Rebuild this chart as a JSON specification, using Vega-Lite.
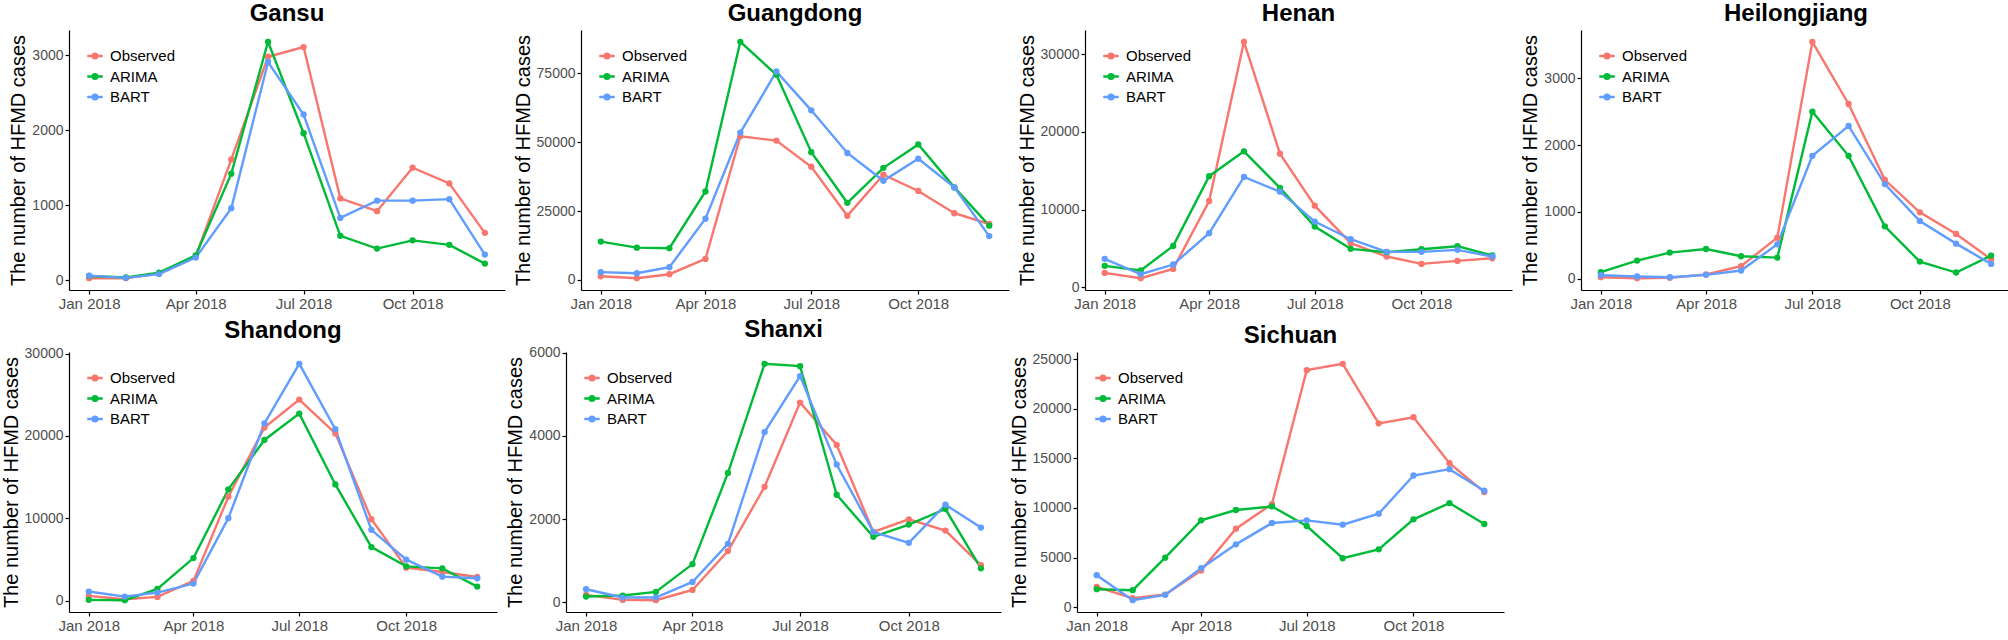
{
  "$schema": "https://vega.github.io/schema/vega-lite/v6.json",
  "padding": {"left": 1, "top": 2, "right": 2, "bottom": 2},
  "background": "white",
  "data": {"values": [
    {"p":"Gansu","m":"2018-01-01","Observed":25,"ARIMA":55,"BART":60},
    {"p":"Gansu","m":"2018-02-01","Observed":25,"ARIMA":35,"BART":30},
    {"p":"Gansu","m":"2018-03-01","Observed":90,"ARIMA":100,"BART":80},
    {"p":"Gansu","m":"2018-04-01","Observed":320,"ARIMA":330,"BART":300},
    {"p":"Gansu","m":"2018-05-01","Observed":1610,"ARIMA":1420,"BART":960},
    {"p":"Gansu","m":"2018-06-01","Observed":2980,"ARIMA":3180,"BART":2910},
    {"p":"Gansu","m":"2018-07-01","Observed":3110,"ARIMA":1960,"BART":2210},
    {"p":"Gansu","m":"2018-08-01","Observed":1090,"ARIMA":590,"BART":830},
    {"p":"Gansu","m":"2018-09-01","Observed":920,"ARIMA":420,"BART":1060},
    {"p":"Gansu","m":"2018-10-01","Observed":1500,"ARIMA":530,"BART":1060},
    {"p":"Gansu","m":"2018-11-01","Observed":1290,"ARIMA":470,"BART":1080},
    {"p":"Gansu","m":"2018-12-01","Observed":630,"ARIMA":220,"BART":340},
    {"p":"Guangdong","m":"2018-01-01","Observed":1300,"ARIMA":13900,"BART":2800},
    {"p":"Guangdong","m":"2018-02-01","Observed":600,"ARIMA":11700,"BART":2400},
    {"p":"Guangdong","m":"2018-03-01","Observed":2050,"ARIMA":11500,"BART":4600},
    {"p":"Guangdong","m":"2018-04-01","Observed":7600,"ARIMA":32100,"BART":22200},
    {"p":"Guangdong","m":"2018-05-01","Observed":52200,"ARIMA":86500,"BART":53500},
    {"p":"Guangdong","m":"2018-06-01","Observed":50600,"ARIMA":74500,"BART":75700},
    {"p":"Guangdong","m":"2018-07-01","Observed":41100,"ARIMA":46400,"BART":61600},
    {"p":"Guangdong","m":"2018-08-01","Observed":23300,"ARIMA":28000,"BART":46100},
    {"p":"Guangdong","m":"2018-09-01","Observed":38200,"ARIMA":40700,"BART":36000},
    {"p":"Guangdong","m":"2018-10-01","Observed":32300,"ARIMA":49200,"BART":44000},
    {"p":"Guangdong","m":"2018-11-01","Observed":24200,"ARIMA":33600,"BART":33600},
    {"p":"Guangdong","m":"2018-12-01","Observed":20300,"ARIMA":19700,"BART":15900},
    {"p":"Henan","m":"2018-01-01","Observed":1840,"ARIMA":2750,"BART":3650},
    {"p":"Henan","m":"2018-02-01","Observed":1160,"ARIMA":2150,"BART":1670},
    {"p":"Henan","m":"2018-03-01","Observed":2360,"ARIMA":5320,"BART":2920},
    {"p":"Henan","m":"2018-04-01","Observed":11100,"ARIMA":14300,"BART":6950},
    {"p":"Henan","m":"2018-05-01","Observed":31600,"ARIMA":17500,"BART":14200},
    {"p":"Henan","m":"2018-06-01","Observed":17200,"ARIMA":12800,"BART":12300},
    {"p":"Henan","m":"2018-07-01","Observed":10500,"ARIMA":7810,"BART":8450},
    {"p":"Henan","m":"2018-08-01","Observed":5670,"ARIMA":4940,"BART":6180},
    {"p":"Henan","m":"2018-09-01","Observed":3950,"ARIMA":4510,"BART":4550},
    {"p":"Henan","m":"2018-10-01","Observed":3000,"ARIMA":4890,"BART":4550},
    {"p":"Henan","m":"2018-11-01","Observed":3390,"ARIMA":5280,"BART":4810},
    {"p":"Henan","m":"2018-12-01","Observed":3730,"ARIMA":4080,"BART":3950},
    {"p":"Heilongjiang","m":"2018-01-01","Observed":20,"ARIMA":95,"BART":50},
    {"p":"Heilongjiang","m":"2018-02-01","Observed":5,"ARIMA":269,"BART":30},
    {"p":"Heilongjiang","m":"2018-03-01","Observed":10,"ARIMA":389,"BART":20},
    {"p":"Heilongjiang","m":"2018-04-01","Observed":60,"ARIMA":443,"BART":55},
    {"p":"Heilongjiang","m":"2018-05-01","Observed":185,"ARIMA":334,"BART":120},
    {"p":"Heilongjiang","m":"2018-06-01","Observed":613,"ARIMA":314,"BART":513},
    {"p":"Heilongjiang","m":"2018-07-01","Observed":3548,"ARIMA":2501,"BART":1839},
    {"p":"Heilongjiang","m":"2018-08-01","Observed":2616,"ARIMA":1839,"BART":2287},
    {"p":"Heilongjiang","m":"2018-09-01","Observed":1480,"ARIMA":782,"BART":1415},
    {"p":"Heilongjiang","m":"2018-10-01","Observed":992,"ARIMA":254,"BART":862},
    {"p":"Heilongjiang","m":"2018-11-01","Observed":668,"ARIMA":90,"BART":523},
    {"p":"Heilongjiang","m":"2018-12-01","Observed":289,"ARIMA":344,"BART":219},
    {"p":"Shandong","m":"2018-01-01","Observed":560,"ARIMA":80,"BART":1090},
    {"p":"Shandong","m":"2018-02-01","Observed":160,"ARIMA":40,"BART":480},
    {"p":"Shandong","m":"2018-03-01","Observed":440,"ARIMA":1410,"BART":970},
    {"p":"Shandong","m":"2018-04-01","Observed":2380,"ARIMA":5160,"BART":2060},
    {"p":"Shandong","m":"2018-05-01","Observed":12600,"ARIMA":13500,"BART":10000},
    {"p":"Shandong","m":"2018-06-01","Observed":21000,"ARIMA":19500,"BART":21500},
    {"p":"Shandong","m":"2018-07-01","Observed":24400,"ARIMA":22700,"BART":28750},
    {"p":"Shandong","m":"2018-08-01","Observed":20300,"ARIMA":14100,"BART":20800},
    {"p":"Shandong","m":"2018-09-01","Observed":9880,"ARIMA":6490,"BART":8590},
    {"p":"Shandong","m":"2018-10-01","Observed":3990,"ARIMA":4150,"BART":4960},
    {"p":"Shandong","m":"2018-11-01","Observed":3470,"ARIMA":3910,"BART":2900},
    {"p":"Shandong","m":"2018-12-01","Observed":2860,"ARIMA":1690,"BART":2700},
    {"p":"Shanxi","m":"2018-01-01","Observed":175,"ARIMA":136,"BART":311},
    {"p":"Shanxi","m":"2018-02-01","Observed":55,"ARIMA":160,"BART":112},
    {"p":"Shanxi","m":"2018-03-01","Observed":48,"ARIMA":247,"BART":112},
    {"p":"Shanxi","m":"2018-04-01","Observed":295,"ARIMA":917,"BART":487},
    {"p":"Shanxi","m":"2018-05-01","Observed":1230,"ARIMA":3111,"BART":1404},
    {"p":"Shanxi","m":"2018-06-01","Observed":2776,"ARIMA":5736,"BART":4093},
    {"p":"Shanxi","m":"2018-07-01","Observed":4803,"ARIMA":5680,"BART":5441},
    {"p":"Shanxi","m":"2018-08-01","Observed":3782,"ARIMA":2585,"BART":3311},
    {"p":"Shanxi","m":"2018-09-01","Observed":1691,"ARIMA":1572,"BART":1691},
    {"p":"Shanxi","m":"2018-10-01","Observed":1994,"ARIMA":1867,"BART":1428},
    {"p":"Shanxi","m":"2018-11-01","Observed":1723,"ARIMA":2242,"BART":2345},
    {"p":"Shanxi","m":"2018-12-01","Observed":894,"ARIMA":814,"BART":1795},
    {"p":"Sichuan","m":"2018-01-01","Observed":2040,"ARIMA":1810,"BART":3220},
    {"p":"Sichuan","m":"2018-02-01","Observed":900,"ARIMA":1710,"BART":700},
    {"p":"Sichuan","m":"2018-03-01","Observed":1270,"ARIMA":4990,"BART":1240},
    {"p":"Sichuan","m":"2018-04-01","Observed":3690,"ARIMA":8750,"BART":3920},
    {"p":"Sichuan","m":"2018-05-01","Observed":7910,"ARIMA":9790,"BART":6330},
    {"p":"Sichuan","m":"2018-06-01","Observed":10390,"ARIMA":10150,"BART":8480},
    {"p":"Sichuan","m":"2018-07-01","Observed":23890,"ARIMA":8180,"BART":8750},
    {"p":"Sichuan","m":"2018-08-01","Observed":24530,"ARIMA":4930,"BART":8310},
    {"p":"Sichuan","m":"2018-09-01","Observed":18530,"ARIMA":5830,"BART":9420},
    {"p":"Sichuan","m":"2018-10-01","Observed":19140,"ARIMA":8850,"BART":13270},
    {"p":"Sichuan","m":"2018-11-01","Observed":14510,"ARIMA":10490,"BART":13910},
    {"p":"Sichuan","m":"2018-12-01","Observed":11600,"ARIMA":8380,"BART":11730}
  ]},
  "transform": [{"fold": ["Observed", "ARIMA", "BART"], "as": ["s", "v"]}],
  "resolve": {"scale": {"color": "independent"}, "legend": {"color": "independent"}},
  "spacing": 6,
  "vconcat": [
    {
      "spacing": 8,
      "resolve": {"scale": {"color": "independent"}, "legend": {"color": "independent"}},
      "hconcat": [
        {
          "title": "Gansu", "width": 436, "height": 260,
          "transform": [{"filter": "datum.p === 'Gansu'"}],
          "encoding": {
            "x": {"field": "m", "type": "temporal", "title": null, "scale": {"type": "utc", "domain": [{"year": 2017, "month": 12, "date": 15, "utc": true}, {"year": 2018, "month": 12, "date": 18, "utc": true}]}, "axis": {"values": [{"year": 2018, "month": 1, "date": 1, "utc": true}, {"year": 2018, "month": 4, "date": 1, "utc": true}, {"year": 2018, "month": 7, "date": 1, "utc": true}, {"year": 2018, "month": 10, "date": 1, "utc": true}], "labelExpr": "utcFormat(datum.value, '%b %Y')"}},
            "y": {"field": "v", "type": "quantitative", "title": "The number of HFMD cases", "scale": {"zero": false, "nice": false, "padding": 11.8}, "axis": {"values": [0, 1000, 2000, 3000], "format": "d"}},
            "color": {"field": "s", "type": "nominal", "title": null, "scale": {"domain": ["Observed", "ARIMA", "BART"], "range": ["#F8766D", "#00BA38", "#619CFF"]}}
          },
          "layer": [{"mark": {"type": "line", "strokeWidth": 2.4}}, {"mark": {"type": "point", "filled": true, "size": 40, "opacity": 1}}]
        },
        {
          "title": "Guangdong", "width": 428, "height": 260,
          "transform": [{"filter": "datum.p === 'Guangdong'"}],
          "encoding": {
            "x": {"field": "m", "type": "temporal", "title": null, "scale": {"type": "utc", "domain": [{"year": 2017, "month": 12, "date": 15, "utc": true}, {"year": 2018, "month": 12, "date": 18, "utc": true}]}, "axis": {"values": [{"year": 2018, "month": 1, "date": 1, "utc": true}, {"year": 2018, "month": 4, "date": 1, "utc": true}, {"year": 2018, "month": 7, "date": 1, "utc": true}, {"year": 2018, "month": 10, "date": 1, "utc": true}], "labelExpr": "utcFormat(datum.value, '%b %Y')"}},
            "y": {"field": "v", "type": "quantitative", "title": "The number of HFMD cases", "scale": {"zero": false, "nice": false, "padding": 11.8}, "axis": {"values": [0, 25000, 50000, 75000], "format": "d"}},
            "color": {"field": "s", "type": "nominal", "title": null, "scale": {"domain": ["Observed", "ARIMA", "BART"], "range": ["#F8766D", "#00BA38", "#619CFF"]}}
          },
          "layer": [{"mark": {"type": "line", "strokeWidth": 2.4}}, {"mark": {"type": "point", "filled": true, "size": 40, "opacity": 1}}]
        },
        {
          "title": "Henan", "width": 427, "height": 260,
          "transform": [{"filter": "datum.p === 'Henan'"}],
          "encoding": {
            "x": {"field": "m", "type": "temporal", "title": null, "scale": {"type": "utc", "domain": [{"year": 2017, "month": 12, "date": 15, "utc": true}, {"year": 2018, "month": 12, "date": 18, "utc": true}]}, "axis": {"values": [{"year": 2018, "month": 1, "date": 1, "utc": true}, {"year": 2018, "month": 4, "date": 1, "utc": true}, {"year": 2018, "month": 7, "date": 1, "utc": true}, {"year": 2018, "month": 10, "date": 1, "utc": true}], "labelExpr": "utcFormat(datum.value, '%b %Y')"}},
            "y": {"field": "v", "type": "quantitative", "title": "The number of HFMD cases", "scale": {"zero": false, "nice": false, "padding": 11.8}, "axis": {"values": [0, 10000, 20000, 30000], "format": "d"}},
            "color": {"field": "s", "type": "nominal", "title": null, "scale": {"domain": ["Observed", "ARIMA", "BART"], "range": ["#F8766D", "#00BA38", "#619CFF"]}}
          },
          "layer": [{"mark": {"type": "line", "strokeWidth": 2.4}}, {"mark": {"type": "point", "filled": true, "size": 40, "opacity": 1}}]
        },
        {
          "title": "Heilongjiang", "width": 430, "height": 260,
          "transform": [{"filter": "datum.p === 'Heilongjiang'"}],
          "encoding": {
            "x": {"field": "m", "type": "temporal", "title": null, "scale": {"type": "utc", "domain": [{"year": 2017, "month": 12, "date": 15, "utc": true}, {"year": 2018, "month": 12, "date": 18, "utc": true}]}, "axis": {"values": [{"year": 2018, "month": 1, "date": 1, "utc": true}, {"year": 2018, "month": 4, "date": 1, "utc": true}, {"year": 2018, "month": 7, "date": 1, "utc": true}, {"year": 2018, "month": 10, "date": 1, "utc": true}], "labelExpr": "utcFormat(datum.value, '%b %Y')"}},
            "y": {"field": "v", "type": "quantitative", "title": "The number of HFMD cases", "scale": {"zero": false, "nice": false, "padding": 11.8}, "axis": {"values": [0, 1000, 2000, 3000], "format": "d"}},
            "color": {"field": "s", "type": "nominal", "title": null, "scale": {"domain": ["Observed", "ARIMA", "BART"], "range": ["#F8766D", "#00BA38", "#619CFF"]}}
          },
          "layer": [{"mark": {"type": "line", "strokeWidth": 2.4}}, {"mark": {"type": "point", "filled": true, "size": 40, "opacity": 1}}]
        }
      ]
    },
    {
      "spacing": 8,
      "resolve": {"scale": {"color": "independent"}, "legend": {"color": "independent"}},
      "hconcat": [
        {
          "title": "Shandong", "width": 428, "height": 260,
          "transform": [{"filter": "datum.p === 'Shandong'"}],
          "encoding": {
            "x": {"field": "m", "type": "temporal", "title": null, "scale": {"type": "utc", "domain": [{"year": 2017, "month": 12, "date": 15, "utc": true}, {"year": 2018, "month": 12, "date": 18, "utc": true}]}, "axis": {"values": [{"year": 2018, "month": 1, "date": 1, "utc": true}, {"year": 2018, "month": 4, "date": 1, "utc": true}, {"year": 2018, "month": 7, "date": 1, "utc": true}, {"year": 2018, "month": 10, "date": 1, "utc": true}], "labelExpr": "utcFormat(datum.value, '%b %Y')"}},
            "y": {"field": "v", "type": "quantitative", "title": "The number of HFMD cases", "scale": {"zero": false, "nice": false, "padding": 11.8}, "axis": {"values": [0, 10000, 20000, 30000], "format": "d"}},
            "color": {"field": "s", "type": "nominal", "title": null, "scale": {"domain": ["Observed", "ARIMA", "BART"], "range": ["#F8766D", "#00BA38", "#619CFF"]}}
          },
          "layer": [{"mark": {"type": "line", "strokeWidth": 2.4}}, {"mark": {"type": "point", "filled": true, "size": 40, "opacity": 1}}]
        },
        {
          "title": "Shanxi", "width": 435, "height": 260,
          "transform": [{"filter": "datum.p === 'Shanxi'"}],
          "encoding": {
            "x": {"field": "m", "type": "temporal", "title": null, "scale": {"type": "utc", "domain": [{"year": 2017, "month": 12, "date": 15, "utc": true}, {"year": 2018, "month": 12, "date": 18, "utc": true}]}, "axis": {"values": [{"year": 2018, "month": 1, "date": 1, "utc": true}, {"year": 2018, "month": 4, "date": 1, "utc": true}, {"year": 2018, "month": 7, "date": 1, "utc": true}, {"year": 2018, "month": 10, "date": 1, "utc": true}], "labelExpr": "utcFormat(datum.value, '%b %Y')"}},
            "y": {"field": "v", "type": "quantitative", "title": "The number of HFMD cases", "scale": {"zero": false, "nice": false, "padding": 11.8}, "axis": {"values": [0, 2000, 4000, 6000], "format": "d"}},
            "color": {"field": "s", "type": "nominal", "title": null, "scale": {"domain": ["Observed", "ARIMA", "BART"], "range": ["#F8766D", "#00BA38", "#619CFF"]}}
          },
          "layer": [{"mark": {"type": "line", "strokeWidth": 2.4}}, {"mark": {"type": "point", "filled": true, "size": 40, "opacity": 1}}]
        },
        {
          "title": "Sichuan", "width": 427, "height": 260,
          "transform": [{"filter": "datum.p === 'Sichuan'"}],
          "encoding": {
            "x": {"field": "m", "type": "temporal", "title": null, "scale": {"type": "utc", "domain": [{"year": 2017, "month": 12, "date": 15, "utc": true}, {"year": 2018, "month": 12, "date": 18, "utc": true}]}, "axis": {"values": [{"year": 2018, "month": 1, "date": 1, "utc": true}, {"year": 2018, "month": 4, "date": 1, "utc": true}, {"year": 2018, "month": 7, "date": 1, "utc": true}, {"year": 2018, "month": 10, "date": 1, "utc": true}], "labelExpr": "utcFormat(datum.value, '%b %Y')"}},
            "y": {"field": "v", "type": "quantitative", "title": "The number of HFMD cases", "scale": {"zero": false, "nice": false, "padding": 11.8}, "axis": {"values": [0, 5000, 10000, 15000, 20000, 25000], "format": "d"}},
            "color": {"field": "s", "type": "nominal", "title": null, "scale": {"domain": ["Observed", "ARIMA", "BART"], "range": ["#F8766D", "#00BA38", "#619CFF"]}}
          },
          "layer": [{"mark": {"type": "line", "strokeWidth": 2.4}}, {"mark": {"type": "point", "filled": true, "size": 40, "opacity": 1}}]
        }
      ]
    }
  ],
  "config": {
    "font": "Liberation Sans",
    "view": {"stroke": null},
    "axis": {"grid": false, "domainColor": "#000000", "tickColor": "#000000", "domainWidth": 1.2, "tickWidth": 1.2, "tickSize": 4, "labelColor": "#4d4d4d", "titleColor": "#000000", "titleFontWeight": "normal", "labelFlush": false, "labelOverlap": false},
    "axisX": {"labelFontSize": 15, "labelPadding": 2},
    "axisY": {"labelFontSize": 14, "labelPadding": 2, "titleFontSize": 20, "titlePadding": 3},
    "title": {"fontSize": 24, "fontWeight": "bold", "color": "#000000", "anchor": "middle", "frame": "group", "offset": 4},
    "legend": {"orient": "top-left", "offset": 17, "padding": 0, "labelFontSize": 15, "labelColor": "#000000", "symbolSize": 240, "symbolStrokeWidth": 2.4, "symbolType": "M-1,0L1,0M-0.3,0A0.3,0.3,0,1,1,0.3,0A0.3,0.3,0,1,1,-0.3,0Z", "rowPadding": 3.5, "labelOffset": 6}
  }
}
